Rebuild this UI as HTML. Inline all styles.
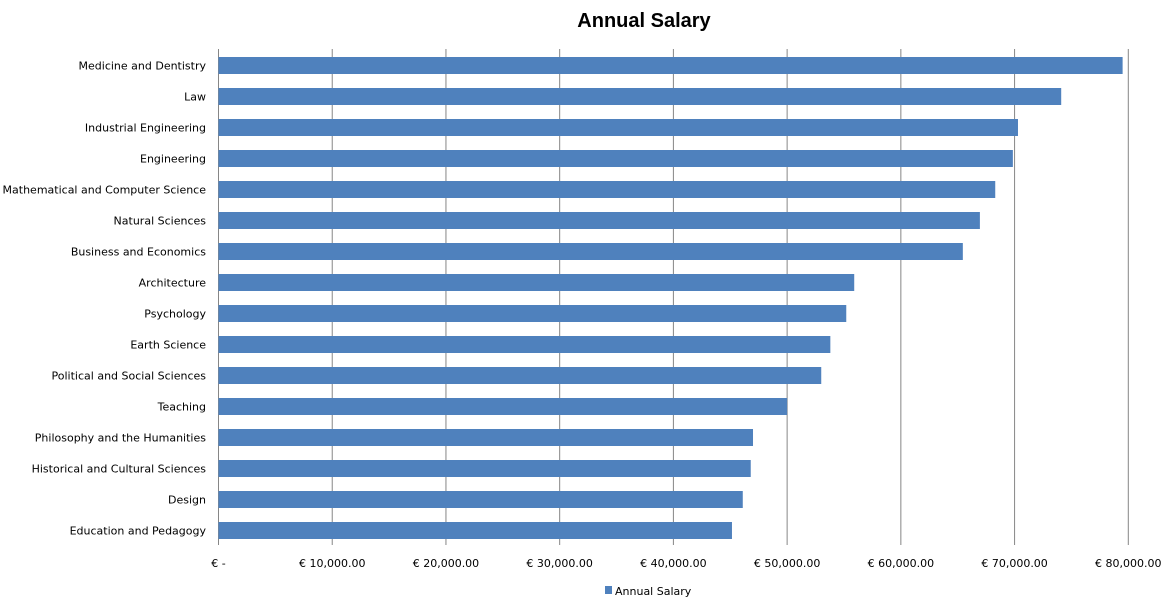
<!DOCTYPE html>
<html><head><meta charset="utf-8"><style>
body{margin:0;background:#fff;}
svg text{font-family:"DejaVu Sans","Liberation Sans",sans-serif;}
</style></head><body>
<svg width="1169" height="607" xmlns="http://www.w3.org/2000/svg">
<text x="644" y="27" text-anchor="middle" font-size="20" font-weight="bold" style="font-family:'Liberation Sans',sans-serif">Annual Salary</text>
<g id="grid"></g><g id="bars"></g><g id="ylabels"></g><g id="xlabels"></g>
<g>
<rect x="605" y="586" width="7" height="8" fill="#4f81bd"/>
<text x="615" y="595" font-size="11" fill="#000">Annual Salary</text>
</g>
</svg>
<script>
const categories=["Medicine and Dentistry","Law","Industrial Engineering","Engineering","Mathematical and Computer Science","Natural Sciences","Business and Economics","Architecture","Psychology","Earth Science","Political and Social Sciences","Teaching","Philosophy and the Humanities","Historical and Cultural Sciences","Design","Education and Pedagogy"];
const salaries=[79500,74100,70300,69850,68300,66950,65450,55900,55200,53800,53000,50000,47000,46800,46100,45150];
const ticks=[0,10000,20000,30000,40000,50000,60000,70000,80000];
const tickLabels=["€ -","€ 10,000.00","€ 20,000.00","€ 30,000.00","€ 40,000.00","€ 50,000.00","€ 60,000.00","€ 70,000.00","€ 80,000.00"];
const NS="http://www.w3.org/2000/svg";
const x0=218.5,pxPer=(1128.3-218.5)/80000,plotTop=49,band=31;
const X=v=>x0+v*pxPer, Y=i=>plotTop+i*band;
const plotBottom=plotTop+categories.length*band;
function mk(t,a,p){const e=document.createElementNS(NS,t);for(const k in a)e.setAttribute(k,a[k]);p.appendChild(e);return e;}
const g=document.getElementById('grid'),b=document.getElementById('bars'),yl=document.getElementById('ylabels'),xl=document.getElementById('xlabels');
ticks.forEach((t,i)=>{
 const l=mk('line',{x1:X(t),x2:X(t),y1:plotTop,y2:plotBottom,stroke:'#868686','stroke-width':1},g);
 
 
 const tx=mk('text',{x:X(t),y:567,'text-anchor':'middle','font-size':11,fill:'#000'},xl);
 tx.textContent=tickLabels[i];
 
 
});
categories.forEach((c,i)=>{
 const r=mk('rect',{x:X(0),y:Y(i)+8,width:X(salaries[i])-X(0),height:17,fill:'#4f81bd'},b);
 
 
 const t=mk('text',{x:206,y:Y(i)+20.5,'text-anchor':'end','font-size':11,fill:'#000'},yl);
 t.textContent=c;
 
 
});
</script>
</body></html>
